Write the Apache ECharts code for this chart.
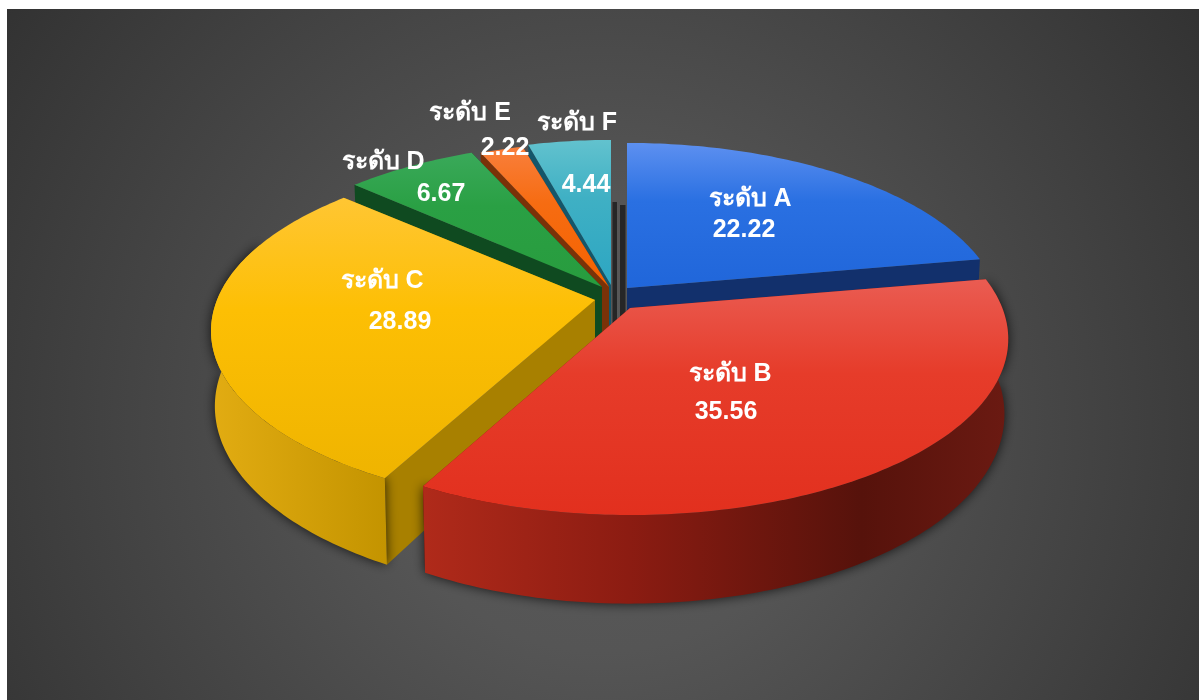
<!DOCTYPE html>
<html>
<head>
<meta charset="utf-8">
<style>
html, body { margin: 0; background: #fff; }
#main { width: 1199px; height: 700px; }
</style>
</head>
<body>
<div id="main"></div>
<script src="https://cdn.jsdelivr.net/npm/echarts@6/dist/echarts.min.js"></script>
<script>
// values
const categories = ['ระดับ A', 'ระดับ B', 'ระดับ C', 'ระดับ D', 'ระดับ E', 'ระดับ F']
const values = [22.22, 35.56, 28.89, 6.67, 2.22, 4.44]

// pie look, one row per slice
const apex = [[627, 288], [630, 308], [595, 300], [602, 287], [609, 287], [611, 285]]
const sliceScale = [0.977, 0.985, 1, 0.985, 0.97, 0.93]
const paintOrder = [0, 5, 4, 3, 2, 1]
const topColors = [
  ['#5d90f0', '#2a70e2', '#2066da'], ['#ea5c52', '#e63c2a', '#e2301e'], ['#ffc633', '#fdbf04', '#efb400'],
  ['#3aa95a', '#2aa044', '#289c3e'], ['#f97f3c', '#f66c12', '#f56200'], ['#62c2ce', '#3fb0c4', '#2da6c2']
]
const cutColors = ['#12306c', '#7a1a10', '#a88000', '#0f4a20', '#7a3208', '#14566a']
const gapColor = '#262626'
const wallStops = [
  [[0, '#12306c'], [1, '#12306c']],
  [[0, '#b02a1a'], [0.35, '#8c1c12'], [0.75, '#56120b'], [1, '#6b1a12']],
  [[0, '#e2ac12'], [1, '#c49400']],
  [[0, '#0f4a20'], [1, '#0f4a20']], [[0, '#7a3208'], [1, '#7a3208']], [[0, '#14566a'], [1, '#14566a']]
]
const namePos = [[750, 199], [730, 374], [382, 281], [383, 162], [470, 113], [577, 123]]
const valuePos = [[744, 230], [726, 412], [400, 322], [441, 194], [505, 148], [586, 185]]
const gapShift = [-7, 0, 0, 0, 0, 6] // the narrow gap at 12 o'clock

const RX = 378, RY = 170.6, DEPTH = 73, PERSP = 0.176

function rim(i, deg, low) {
  const t = deg * Math.PI / 180
  const X = Math.sin(t), Y = -Math.cos(t)
  const p = 1 / (1 - PERSP * Y)
  const k = low ? 0.99 : 1
  return [
    apex[i][0] + RX * sliceScale[i] * X * p * k,
    apex[i][1] + RY * Y * p + (low ? DEPTH * p : 0)
  ]
}

function arc(i, from, to, low) {
  const pts = []
  const n = Math.max(2, Math.ceil(Math.abs(to - from)))
  for (let s = 0; s <= n; s++) pts.push(rim(i, from + (to - from) * s / n, low))
  return pts
}

function renderSlice(params, api) {
  const i = params.dataIndex
  const total = values.reduce((a, b) => a + b, 0)
  const before = values.slice(0, i).reduce((a, b) => a + b, 0)
  const start = before / total * 360
  const end = start + api.value(0) / total * 360
  const z = paintOrder[i] * 10
  const kids = []
  const bottom = [apex[i][0], apex[i][1] + DEPTH]

  // the two cut faces
  ;[start, end].forEach((deg) => {
    const top = rim(i, deg, false)
    const low = rim(i, deg, true)
    if (gapShift[i] && Math.abs(deg % 360) < 0.1) {
      // faces at 12 o'clock only show as dark strips in the gap
      const ax = apex[i][0] + Math.sign(gapShift[i]) * 1.5
      const sx = apex[i][0] + gapShift[i]
      kids.push({
        type: 'polygon',
        z2: z,
        shape: { points: [[ax, low[1]], [sx, low[1]], [sx, bottom[1]], [ax, bottom[1]]] },
        style: { fill: gapColor }
      })
      return
    }
    kids.push({
      type: 'polygon',
      z2: z,
      shape: { points: [apex[i], top, low, bottom] },
      style: { fill: cutColors[i] }
    })
  })

  // outer wall, only the part facing us
  const wallFrom = Math.max(start, 70)
  const wallTo = Math.min(end, 290)
  if (wallTo - wallFrom > 15) {
    const upper = arc(i, wallFrom, wallTo, false)
    const lower = arc(i, wallFrom, wallTo, true).reverse()
    const xs = upper.map((p) => p[0])
    const x0 = Math.min.apply(null, xs), x1 = Math.max.apply(null, xs)
    kids.push({
      type: 'polygon',
      z2: z + 1,
      shape: { points: upper.concat(lower) },
      style: {
        fill: new echarts.graphic.LinearGradient(x0, 0, x1, 0,
          wallStops[i].map((s) => ({ offset: s[0], color: s[1] })), true),
        shadowBlur: 12,
        shadowColor: 'rgba(0,0,0,0.75)'
      }
    })
  }

  // top face
  const face = [apex[i]].concat(arc(i, start, end, false))
  const ys = face.map((p) => p[1])
  kids.push({
    type: 'polygon',
    z2: z + 2,
    shape: { points: face },
    style: {
      fill: new echarts.graphic.LinearGradient(0, Math.min.apply(null, ys), 0, Math.max.apply(null, ys), [
        { offset: 0, color: topColors[i][0] },
        { offset: 0.4, color: topColors[i][1] },
        { offset: 1, color: topColors[i][2] }
      ], true)
    }
  })

  // labels
  const font = 'bold 25px "Liberation Sans", "Noto Sans", sans-serif'
  kids.push({
    type: 'text', z2: 100, x: namePos[i][0], y: namePos[i][1],
    style: { text: categories[i], fill: '#fff', font: font, align: 'center', verticalAlign: 'middle' }
  })
  kids.push({
    type: 'text', z2: 100, x: valuePos[i][0], y: valuePos[i][1],
    style: { text: String(api.value(0)), fill: '#fff', font: font, align: 'center', verticalAlign: 'middle' }
  })
  return { type: 'group', children: kids }
}

const myChart = echarts.init(document.getElementById('main'))
myChart.setOption({
  animation: false,
  backgroundColor: '#fff',
  graphic: [{
    type: 'rect',
    z: -1,
    shape: { x: 7, y: 9, width: 1192, height: 691 },
    style: {
      fill: new echarts.graphic.RadialGradient(0.5, 0.6, 1.1, [
        { offset: 0, color: '#5a5a5a' },
        { offset: 0.3, color: '#555555' },
        { offset: 0.7, color: '#404040' },
        { offset: 1, color: '#303030' }
      ])
    }
  }],
  series: [{
    type: 'custom',
    coordinateSystem: 'none',
    renderItem: renderSlice,
    data: values
  }]
})
</script>
</body>
</html>
